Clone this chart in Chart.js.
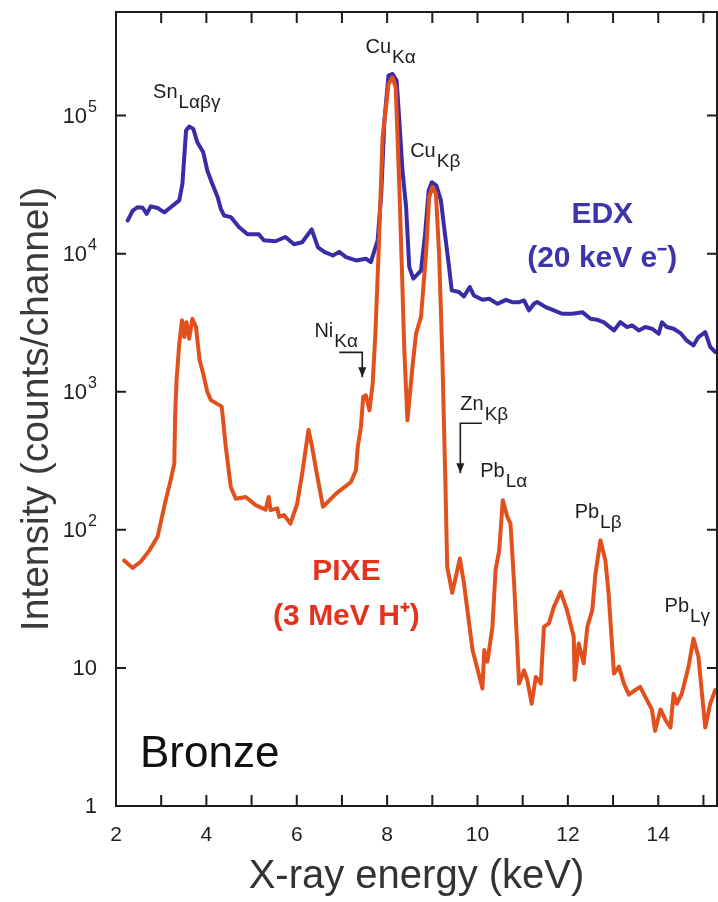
<!DOCTYPE html>
<html>
<head>
<meta charset="utf-8">
<script src="https://cdn.jsdelivr.net/npm/chart.js@4.4.1/dist/chart.umd.min.js"></script>
<style>
  html, body { margin: 0; padding: 0; background: #fff; }
  #wrap { width: 718px; height: 902px; position: relative; }
</style>
</head>
<body>
<div id="wrap"><canvas id="spectrum"></canvas></div>
<script>
// EDX spectrum (20 keV electrons)
const edxEnergy = [2.26, 2.37, 2.48, 2.59, 2.68, 2.77, 2.92, 3.07, 3.21, 3.40, 3.47, 3.55, 3.62, 3.71, 3.80, 3.93,
  4.02, 4.13, 4.25, 4.32, 4.39, 4.54, 4.72, 4.91, 5.16, 5.27, 5.53, 5.75, 5.94, 6.12, 6.33, 6.47, 6.61, 6.80, 6.94,
  7.09, 7.31, 7.53, 7.64, 7.79, 7.87, 7.94, 8.03, 8.12, 8.21, 8.27, 8.34, 8.42, 8.49, 8.58, 8.75, 8.84, 8.92, 8.99,
  9.09, 9.19, 9.28, 9.37, 9.43, 9.59, 9.70, 9.83, 9.92, 10.11, 10.26, 10.44, 10.63, 10.77, 10.92, 11.03, 11.14,
  11.25, 11.32, 11.51, 11.69, 11.87, 12.10, 12.32, 12.50, 12.65, 12.79, 13.02, 13.16, 13.31, 13.42, 13.57, 13.71,
  13.86, 14.01, 14.08, 14.19, 14.34, 14.49, 14.63, 14.78, 14.89, 15.04, 15.15, 15.26];
const edxCounts = [17400, 20500, 21700, 21500, 19400, 22000, 21400, 19900, 21700, 24300, 32000, 77900, 83200, 80100,
  64100, 54300, 40000, 32100, 25600, 21100, 18900, 18400, 15600, 13800, 13800, 12500, 12300, 13200, 11700, 12100,
  15000, 11100, 10300, 9700, 10300, 9440, 8930, 9190, 8690, 12500, 27100, 92000, 195000, 200000, 179000, 92000,
  40000, 21700, 7990, 6600, 7550, 13900, 28700, 32900, 31100, 24300, 13900, 7990, 5420, 5270, 4900, 5730, 4980,
  4630, 4710, 4330, 4630, 4450, 4450, 4580, 3880, 4340, 4460, 4100, 3880, 3670, 3670, 3770, 3380, 3320, 3190,
  2780, 3190, 2940, 3020, 2780, 2940, 2860, 2630, 3190, 2940, 2860, 2660, 2350, 2170, 2490, 2700, 2110, 1940];

// PIXE spectrum (3 MeV protons)
const pixeEnergy = [2.18, 2.37, 2.55, 2.74, 2.92, 3.00, 3.10, 3.21, 3.29, 3.31, 3.34, 3.40, 3.46, 3.51, 3.56, 3.62,
  3.69, 3.77, 3.85, 3.93, 4.02, 4.10, 4.34, 4.43, 4.54, 4.65, 4.87, 5.09, 5.31, 5.38, 5.42, 5.57, 5.61, 5.72, 5.86,
  6.01, 6.12, 6.26, 6.34, 6.43, 6.58, 6.87, 7.20, 7.31, 7.35, 7.42, 7.47, 7.53, 7.61, 7.68, 7.74, 7.81, 7.90, 8.03,
  8.12, 8.19, 8.27, 8.33, 8.38, 8.45, 8.56, 8.64, 8.75, 8.86, 8.93, 9.00, 9.08, 9.15, 9.22, 9.29, 9.33, 9.44, 9.61,
  9.70, 9.89, 10.11, 10.15, 10.22, 10.33, 10.40, 10.48, 10.56, 10.66, 10.73, 10.81, 10.92, 11.03, 11.10, 11.20,
  11.29, 11.40, 11.47, 11.58, 11.69, 11.84, 11.98, 12.13, 12.15, 12.24, 12.35, 12.43, 12.54, 12.61, 12.72, 12.83,
  12.90, 13.02, 13.13, 13.24, 13.35, 13.49, 13.60, 13.71, 13.86, 13.93, 14.05, 14.16, 14.27, 14.34, 14.41, 14.52,
  14.67, 14.78, 14.89, 14.96, 15.04, 15.15, 15.26];
const pixeCounts = [60, 53, 59, 71, 89, 117, 164, 229, 302, 696, 1210, 2230, 3290, 2490, 3190, 2420, 3370, 2940,
  1700, 1350, 1000, 870, 780, 398, 204, 168, 173, 151, 140, 173, 139, 143, 124, 128, 111, 155, 255, 530, 398, 270,
  147, 183, 222, 270, 398, 556, 916, 942, 733, 1145, 2630, 9980, 69700, 169000, 189000, 160000, 30300, 7160, 2000,
  621, 1510, 2630, 3500, 9980, 25600, 30300, 27100, 9980, 1890, 216, 54, 35, 62, 41, 13.5, 7.1, 13.5, 11.1, 19.8,
  51, 71, 164, 124, 111, 41, 7.7, 9.6, 8.2, 5.5, 8.6, 7.7, 19.8, 21, 27.7, 35.5, 26.2, 16.8, 8.2, 15, 10.8, 19.8,
  26.2, 48, 84, 60, 35, 9.1, 10.2, 7.7, 6.4, 6.9, 7.3, 6.2, 5.0, 3.5, 5.0, 4.2, 3.7, 6.5, 5.5, 6.5, 10.2, 16.3,
  12.0, 6.9, 3.7, 5.5, 6.9];

const xLabelEvery = 2;
// decade ticks: value, base, exponent shown as superscript
const decadeValues = [1, 10, 100, 1000, 10000, 100000];
const decadeBase = ['1', '10', '10', '10', '10', '10'];
const decadeExp = ['', '', '2', '3', '4', '5'];

// peak annotations: element, line, anchor (energy, counts) = left baseline of the element text
const peakEl = ['Sn', 'Cu', 'Cu', 'Ni', 'Zn', 'Pb', 'Pb', 'Pb'];
const peakLine = ['Lαβγ', 'Kα', 'Kβ', 'Kα', 'Kβ', 'Lα', 'Lβ', 'Lγ'];
const peakE = [2.82, 7.52, 8.51, 6.39, 9.62, 10.06, 12.15, 14.14];
const peakC = [1.35e5, 2.86e5, 4.97e4, 2475, 733, 240, 121, 25.3];

const BLUE = '#3a2ca6';
const ORANGE = '#e2511d';
const SANS = "'Liberation Sans', Arial, Helvetica, sans-serif";

const toPoints = (xs, ys) => xs.map((v, i) => ({ x: v, y: ys[i] }));

const framePlugin = {
  id: 'frame',
  afterDatasetsDraw(chart) {
    const { ctx, chartArea: a, scales: { x, y } } = chart;
    ctx.save();
    ctx.strokeStyle = '#1c1c1c';
    ctx.lineWidth = 2;
    ctx.strokeRect(a.left, a.top, a.right - a.left, a.bottom - a.top);
    ctx.beginPath();
    x.ticks.forEach(t => {
      const px = x.getPixelForValue(t.value);
      if (px <= a.left + 2 || px >= a.right - 2) return;
      ctx.moveTo(px, a.bottom); ctx.lineTo(px, a.bottom - 11);
      ctx.moveTo(px, a.top); ctx.lineTo(px, a.top + 11);
    });
    decadeValues.forEach(v => {
      const py = y.getPixelForValue(v);
      if (py >= a.bottom - 2) return;
      ctx.moveTo(a.left, py); ctx.lineTo(a.left + 10, py);
      ctx.moveTo(a.right, py); ctx.lineTo(a.right - 10, py);
    });
    ctx.stroke();

    // y decade labels, 10 with a raised exponent
    ctx.fillStyle = '#1e1e1e';
    ctx.textBaseline = 'middle';
    decadeValues.forEach((v, i) => {
      const py = y.getPixelForValue(v);
      let right = a.left - 19;
      if (decadeExp[i]) {
        ctx.font = '16px ' + SANS;
        ctx.textAlign = 'right';
        ctx.fillText(decadeExp[i], right, py - 8);
        right -= ctx.measureText(decadeExp[i]).width + 1;
      }
      ctx.font = '22px ' + SANS;
      ctx.textAlign = 'right';
      ctx.fillText(decadeBase[i], right, py + 1);
    });

    // peak labels with subscripts
    ctx.fillStyle = '#1e1e1e';
    ctx.textBaseline = 'alphabetic';
    ctx.textAlign = 'left';
    peakEl.forEach((el, i) => {
      const px = x.getPixelForValue(peakE[i]);
      const py = y.getPixelForValue(peakC[i]);
      ctx.font = '20px ' + SANS;
      ctx.fillText(el, px, py);
      const w = ctx.measureText(el).width;
      ctx.font = '19px ' + SANS;
      ctx.fillText(peakLine[i], px + w + 1, py + 10);
    });

    // marker arrows for Ni Ka and Zn Kb
    const arrow = (pts) => {
      ctx.beginPath();
      pts.forEach((p, j) => {
        const px = x.getPixelForValue(p[0]), py = y.getPixelForValue(p[1]);
        j ? ctx.lineTo(px, py) : ctx.moveTo(px, py);
      });
      ctx.lineWidth = 1.6;
      ctx.stroke();
      const end = pts[pts.length - 1];
      const ex = x.getPixelForValue(end[0]), ey = y.getPixelForValue(end[1]);
      ctx.beginPath();
      ctx.moveTo(ex - 4, ey - 10); ctx.lineTo(ex + 4, ey - 10); ctx.lineTo(ex, ey);
      ctx.closePath();
      ctx.fill();
    };
    arrow([[6.94, 1928], [7.45, 1928], [7.45, 1271]]);
    arrow([[10.10, 591], [9.62, 591], [9.62, 257]]);

    // series captions
    const caption = (lines, e, cs, color) => {
      ctx.fillStyle = color;
      ctx.textAlign = 'center';
      ctx.font = 'bold 30px ' + SANS;
      lines.forEach((s, j) => {
        ctx.fillText(s, x.getPixelForValue(e), y.getPixelForValue(cs[j]));
      });
    };
    caption(['EDX', '(20 keV e\u207B)'], 12.76, [16550, 7940], '#3f35ab');
    caption(['PIXE', '(3 MeV H\u207A)'], 7.10, [43.2, 20.4], '#e5321f');

    ctx.fillStyle = '#111';
    ctx.textAlign = 'left';
    ctx.font = '44px ' + SANS;
    ctx.fillText('Bronze', x.getPixelForValue(2.53), y.getPixelForValue(1.91));
    ctx.restore();
  }
};

new Chart(document.getElementById('spectrum'), {
  type: 'line',
  data: {
    datasets: [
      {
        label: 'PIXE (3 MeV H+)',
        data: toPoints(pixeEnergy, pixeCounts),
        borderColor: ORANGE,
        borderWidth: 4,
        pointRadius: 0,
        tension: 0,
        borderJoinStyle: 'round',
        borderCapStyle: 'round'
      },
      {
        label: 'EDX (20 keV e-)',
        data: toPoints(edxEnergy, edxCounts),
        borderColor: BLUE,
        borderWidth: 4,
        pointRadius: 0,
        tension: 0,
        borderJoinStyle: 'round',
        borderCapStyle: 'round'
      }
    ]
  },
  options: {
    responsive: true,
    maintainAspectRatio: false,
    animation: false,
    layout: { padding: { top: 12, right: 1, left: 0, bottom: 0 } },
    plugins: { legend: { display: false }, tooltip: { enabled: false } },
    scales: {
      x: {
        type: 'linear',
        min: 2,
        max: 15.3,
        afterFit(s) { s.height = 96; s.paddingLeft = 0; s.paddingRight = 0; },
        border: { display: false },
        grid: { display: false, drawTicks: false },
        ticks: {
          stepSize: 1,
          includeBounds: false,
          autoSkip: false,
          maxRotation: 0,
          padding: 17,
          color: '#1e1e1e',
          font: { family: SANS, size: 21 },
          callback: v => (v % xLabelEvery === 0 ? String(v) : '')
        },
        title: {
          display: true,
          text: 'X-ray energy (keV)',
          color: '#333',
          font: { family: SANS, size: 40 },
          padding: { top: 0, bottom: 1 }
        }
      },
      y: {
        type: 'logarithmic',
        min: 1,
        max: Math.pow(10, 5.75),
        afterFit(s) { s.width = 116; s.paddingTop = 0; s.paddingBottom = 0; },
        border: { display: false },
        grid: { display: false, drawTicks: false },
        ticks: { display: false },
        title: {
          display: true,
          text: 'Intensity (counts/channel)',
          color: '#3a3a3a',
          font: { family: SANS, size: 39 },
          padding: { top: 14, bottom: 0 }
        }
      }
    }
  },
  plugins: [framePlugin]
});
</script>
</body>
</html>
